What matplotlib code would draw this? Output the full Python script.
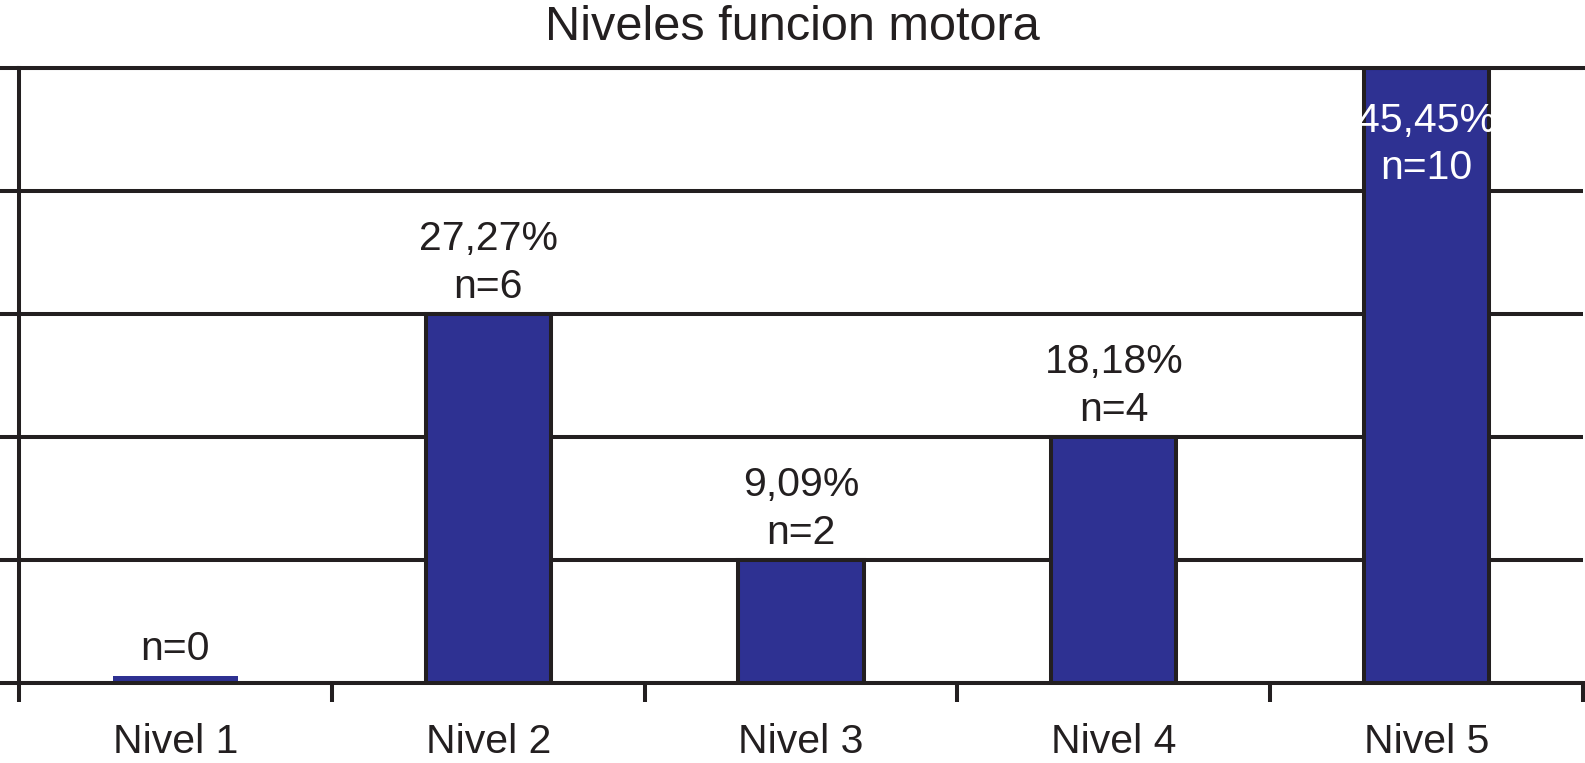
import numpy as np
import matplotlib.pyplot as plt
from matplotlib.ticker import MultipleLocator, FixedLocator

plt.rcParams['font.family'] = ['Liberation Sans', 'DejaVu Sans']

# data
niveles = ["Nivel 1", "Nivel 2", "Nivel 3", "Nivel 4", "Nivel 5"]
n_casos = [0, 6, 2, 4, 10]
porcentajes = ["", "27,27%", "9,09%", "18,18%", "45,45%"]

INK = "#231f20"
BLUE = "#2e3192"
LW = 2.9


def makePlot():
    fig = plt.figure(figsize=(15.85, 7.63), dpi=100)
    ax = fig.add_axes([0.012, 0.1048, 0.9868, 0.8061])

    x = np.arange(len(niveles))
    # n=0 still shows as a thin stub in the original
    alturas = [max(n, 0.11) for n in n_casos]
    for xi, h, n in zip(x, alturas, n_casos):
        ec = INK if n > 0 else BLUE
        ax.bar(xi, h, width=0.4, color=BLUE, edgecolor=ec,
               linewidth=LW if n > 0 else 0, zorder=3)

    ax.set_xlim(-0.5, len(niveles) - 0.5)
    ax.set_ylim(0, 10)

    ax.yaxis.set_major_locator(MultipleLocator(2))
    ax.set_yticklabels([])
    ax.tick_params(axis="y", length=13.7, width=LW, color=INK, direction="out")
    ax.grid(axis="y", color=INK, linewidth=LW, zorder=1)

    ax.set_xticks(x)
    ax.set_xticklabels(niveles, fontsize=29.5, color=INK)
    ax.tick_params(axis="x", which="major", length=0, pad=29)
    ax.xaxis.set_minor_locator(FixedLocator(np.arange(-0.5, len(niveles), 1.0)))
    ax.tick_params(axis="x", which="minor", length=13.7, width=LW,
                   color=INK, direction="out")

    for s in ["left", "bottom", "top"]:
        ax.spines[s].set_linewidth(LW)
        ax.spines[s].set_color(INK)
        ax.spines[s].set_zorder(4)
    ax.spines["right"].set_visible(False)

    for xi, h, n, p in zip(x, alturas, n_casos, porcentajes):
        txt = "n=%d" % n if p == "" else p + "\nn=%d" % n
        if n == max(n_casos):
            ax.text(xi, h - 0.55, txt, ha="center", va="top", fontsize=29.5,
                    color="white", linespacing=1.32, zorder=5)
        else:
            ax.annotate(txt, (xi, h), xytext=(0, 6), textcoords="offset points",
                        ha="center", va="bottom", fontsize=29.5, color=INK,
                        linespacing=1.32, zorder=5)

    fig.text(0.5, 0.993, "Niveles funcion motora", ha="center", va="top",
             fontsize=35, color=INK)

    fig.savefig("out.png", dpi=100)


makePlot()
